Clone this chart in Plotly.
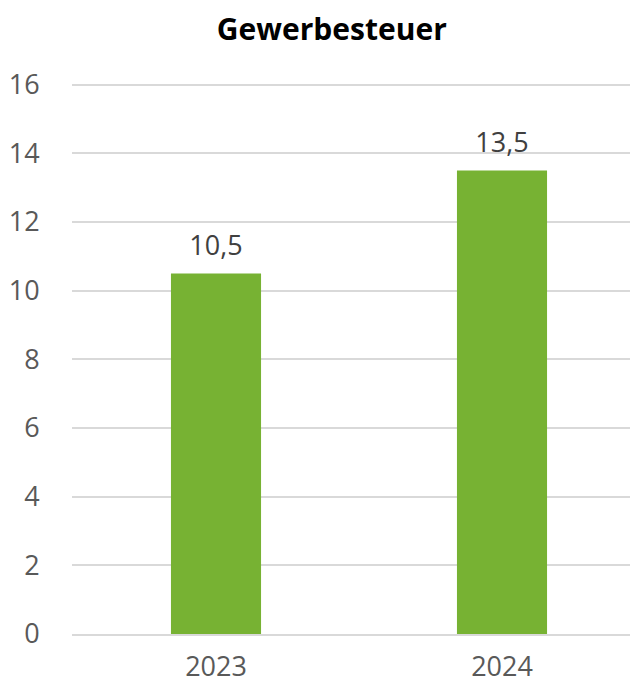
import plotly.graph_objects as go

YEARS = ["2023", "2024"]
VALUES = [10.5, 13.5]
Y_TICKS = [0, 2, 4, 6, 8, 10, 12, 14, 16]

BAR_COLOR = "#77B233"
FONT = "Open Sans"

fig = go.Figure()
fig.add_trace(go.Bar(
    x=[0, 1],
    y=VALUES,
    width=0.315,
    marker=dict(color=BAR_COLOR, line=dict(width=0)),
    hoverinfo="skip",
))
# value labels above bars
fig.add_trace(go.Scatter(
    x=[0, 1],
    y=VALUES,
    mode="markers+text",
    marker=dict(size=18, opacity=0),
    texttemplate="%{y:.1f}",
    textposition="top center",
    textfont=dict(family=FONT, size=27, color="#404040"),
    cliponaxis=False,
    hoverinfo="skip",
))

# page body has an 8px margin, so the figure is a bit smaller than the window
fig.update_layout(
    width=630,
    height=681,
    margin=dict(l=64, r=0, t=75, b=55, autoexpand=False),
    paper_bgcolor="white",
    plot_bgcolor="white",
    separators=",.",
    showlegend=False,
    font=dict(family=FONT, color="#595959"),
    title=dict(
        text="<b>Gewerbesteuer</b>",
        x=0.514,
        xanchor="center",
        y=0.968,
        yanchor="middle",
        font=dict(family=FONT, size=30, color="black"),
    ),
)
fig.update_xaxes(
    range=[-0.5035, 1.4755],
    tickmode="array",
    tickvals=[0, 1],
    ticktext=YEARS,
    tickfont=dict(size=27, color="#595959"),
    showgrid=False,
    zeroline=False,
    showline=True,
    linecolor="#d9d9d9",
    linewidth=2,
    ticks="outside",
    ticklen=8,
    tickcolor="rgba(0,0,0,0)",
    automargin=False,
)
fig.update_yaxes(
    range=[0, 16.05],
    tickvals=Y_TICKS,
    tickfont=dict(size=27, color="#595959"),
    showgrid=True,
    gridcolor="#d9d9d9",
    gridwidth=2,
    zeroline=False,
    showline=False,
    ticks="outside",
    ticklen=26,
    tickcolor="rgba(0,0,0,0)",
    automargin=False,
)

fig.write_html("out.html")
